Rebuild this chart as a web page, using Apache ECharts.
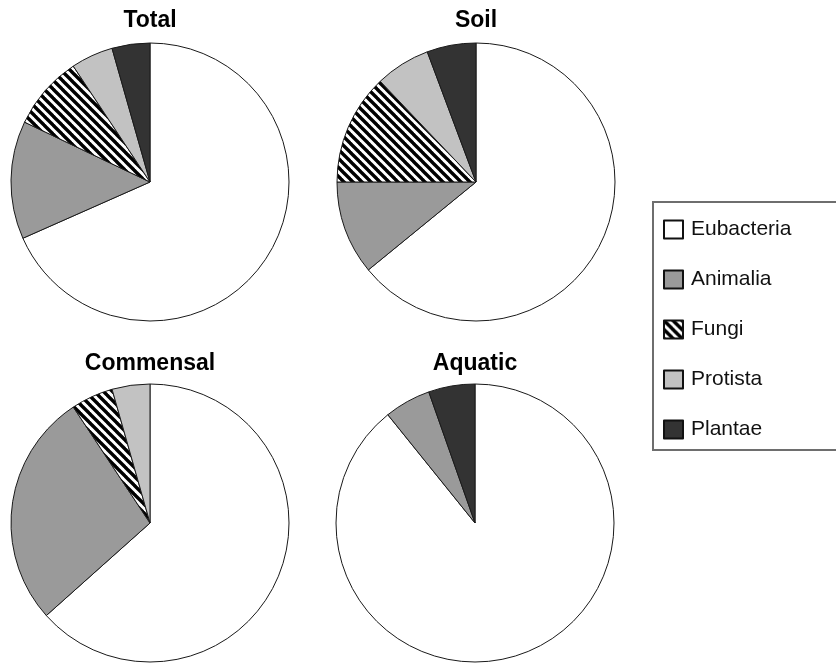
<!DOCTYPE html>
<html>
<head>
<meta charset="utf-8">
<script src="https://cdn.jsdelivr.net/npm/echarts@6/dist/echarts.min.js"></script>
<style>
  body { margin: 0; background: #fff; }
  #chart { width: 836px; height: 665px; }
</style>
</head>
<body>
<div id="chart"></div>
<script>
const categories = ['Eubacteria', 'Animalia', 'Fungi', 'Protista', 'Plantae']
const panels = ['Total', 'Soil', 'Commensal', 'Aquatic']

// percentages, same order as categories
const totalValues = [68.3, 13.7, 8.6, 4.9, 4.4]
const soilValues = [64.1, 10.9, 12.9, 6.4, 5.7]
const commensalValues = [63.4, 27.3, 4.9, 4.4, 0]
const aquaticValues = [89.3, 5.4, 0, 0, 5.4]

const panelValues = [totalValues, soilValues, commensalValues, aquaticValues]

// diagonal hatching for Fungi
function hatch() {
  const s = 9
  const c = document.createElement('canvas')
  c.width = s
  c.height = s
  const ctx = c.getContext('2d')
  ctx.fillStyle = '#fff'
  ctx.fillRect(0, 0, s, s)
  ctx.strokeStyle = '#000'
  ctx.lineWidth = 3.4
  for (let k = -1; k <= 1; k++) {
    ctx.beginPath()
    ctx.moveTo(k * s - 1, -1)
    ctx.lineTo(k * s + s + 1, s + 1)
    ctx.stroke()
  }
  return { image: c, repeat: 'repeat' }
}

const colors = ['#ffffff', '#9a9a9a', hatch(), '#c2c2c2', '#333333']
const centers = [[150, 182], [476, 182], [150, 523], [475, 523]]
const titleTops = [9, 352]

const font = '"Liberation Sans", Arial, Helvetica, sans-serif'

const chart = echarts.init(document.getElementById('chart'), null, { renderer: 'canvas' })

chart.setOption({
  animation: false,
  backgroundColor: '#fff',
  title: panels.map((t, i) => ({
    text: t,
    left: centers[i][0],
    top: i < 2 ? titleTops[0] : titleTops[1],
    textAlign: 'center',
    padding: 0,
    textStyle: { fontFamily: font, fontSize: 23, fontWeight: 'bold', color: '#000' },
  })),
  legend: {
    orient: 'vertical',
    left: 653,
    top: 202,
    data: categories,
    icon: 'rect',
    itemWidth: 19,
    itemHeight: 18,
    itemGap: 29,
    selectedMode: false,
    backgroundColor: '#fff',
    borderColor: '#6e6e6e',
    borderWidth: 2,
    padding: [17, 80, 10, 10],
    itemStyle: { borderColor: '#111', borderWidth: 2 },
    textStyle: { fontFamily: font, fontSize: 21, lineHeight: 20, color: '#111', padding: [0, 0, 0, 3] },
  },
  series: panelValues.map((vals, i) => ({
    type: 'pie',
    name: panels[i],
    center: centers[i],
    radius: 139,
    startAngle: 90,
    clockwise: true,
    silent: true,
    avoidLabelOverlap: false,
    label: { show: false },
    labelLine: { show: false },
    emphasis: { disabled: true },
    itemStyle: { borderColor: '#1a1a1a', borderWidth: 1 },
    data: categories
      .map((name, j) => ({ name, value: vals[j], itemStyle: { color: colors[j] } }))
      .filter((d) => d.value > 0),
  })),
})
</script>
</body>
</html>
